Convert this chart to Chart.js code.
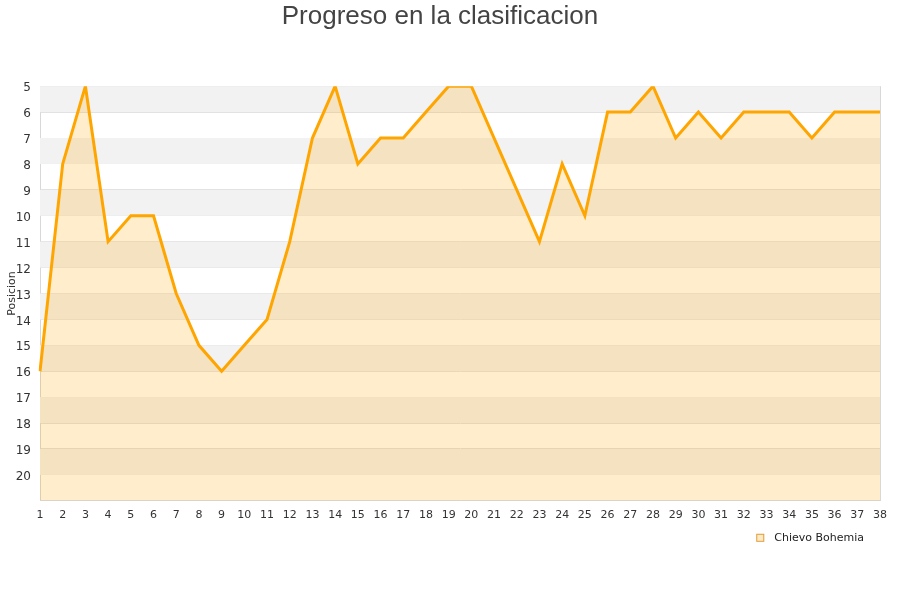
<!DOCTYPE html>
<html lang="es">
<head>
  <meta charset="UTF-8">
  <title>Progreso en la clasificacion</title>
  <script src="https://cdn.jsdelivr.net/npm/chart.js@4.4.0/dist/chart.umd.min.js"></script>
  <style>
    body { margin: 0; padding: 0; background: #fff; }
    #wrap { width: 900px; height: 600px; position: relative; }
  </style>
</head>
<body>
  <div id="wrap"><canvas id="rankChart"></canvas></div>

  <script>
    // jornadas and positions
    const jornadas = [1, 2, 3, 4, 5, 6, 7, 8, 9, 10, 11, 12, 13, 14, 15, 16, 17, 18, 19,
                      20, 21, 22, 23, 24, 25, 26, 27, 28, 29, 30, 31, 32, 33, 34, 35, 36, 37, 38];
    const posiciones = [16, 8, 5, 11, 10, 10, 13, 15, 16, 15, 14, 11, 7, 5, 8, 7, 7, 6, 5,
                        5, 7, 9, 11, 8, 10, 6, 6, 5, 7, 6, 7, 6, 6, 6, 7, 6, 6, 6];
    const teamName = 'Chievo Bohemia';
    const yMin = 5, yMax = 21;

    // alternating grey bands + right edge of the frame
    const bandsPlugin = {
      id: 'bands',
      beforeDatasetsDraw(chart) {
        const { ctx, chartArea, scales } = chart;
        const y = scales.y;
        ctx.save();
        ctx.fillStyle = '#f2f2f2';
        for (let v = yMin; v < yMax; v += 2) {
          const top = y.getPixelForValue(v);
          const bot = y.getPixelForValue(v + 1);
          ctx.fillRect(chartArea.left, top, chartArea.right - chartArea.left, bot - top);
        }
        ctx.strokeStyle = '#d8d8d8';
        ctx.lineWidth = 1;
        ctx.beginPath();
        ctx.moveTo(chartArea.right + 0.5, chartArea.top);
        ctx.lineTo(chartArea.right + 0.5, chartArea.bottom);
        ctx.stroke();
        ctx.restore();
      }
    };

    // small legend under the bottom right corner of the plot
    const legendPlugin = {
      id: 'cornerLegend',
      afterDraw(chart) {
        const { ctx, chartArea } = chart;
        const ds = chart.data.datasets[0];
        const yMid = chartArea.bottom + 37;
        ctx.save();
        ctx.font = '11px "DejaVu Sans"';
        const tw = ctx.measureText(ds.label).width;
        const textX = chartArea.right - 16 - tw;
        const boxX = textX - 18;
        ctx.fillStyle = 'rgba(255, 220, 160, 0.6)';
        ctx.fillRect(boxX, yMid - 4, 8, 8);
        ctx.strokeStyle = '#e0a040';
        ctx.lineWidth = 1;
        ctx.strokeRect(boxX + 0.5, yMid - 3.5, 7, 7);
        ctx.fillStyle = '#222';
        ctx.textBaseline = 'middle';
        ctx.fillText(ds.label, textX, yMid);
        ctx.restore();
      }
    };

    const ctx = document.getElementById('rankChart').getContext('2d');
    new Chart(ctx, {
      type: 'line',
      data: {
        labels: jornadas,
        datasets: [{
          label: teamName,
          data: posiciones,
          borderColor: '#ffa500',
          backgroundColor: 'rgba(255, 165, 0, 0.2)',
          borderWidth: 3,
          pointRadius: 0,
          tension: 0,
          fill: { value: yMax }
        }]
      },
      options: {
        responsive: true,
        maintainAspectRatio: false,
        animation: false,
        layout: { padding: { left: 0, right: 20, top: 0, bottom: 70 } },
        plugins: {
          title: {
            display: true,
            text: 'Progreso en la clasificacion',
            color: '#444',
            font: { family: 'Liberation Sans, Arial, sans-serif', size: 26, weight: 'normal' },
            padding: { top: 1, bottom: 54 }
          },
          legend: { display: false },
          tooltip: { enabled: false }
        },
        scales: {
          x: {
            offset: false,
            grid: { display: false, drawTicks: false },
            border: { color: '#d8d8d8' },
            ticks: {
              color: '#333',
              padding: 8,
              maxRotation: 0,
              autoSkip: false,
              font: { family: 'DejaVu Sans', size: 11 }
            }
          },
          y: {
            reverse: true,
            min: yMin,
            max: yMax,
            afterFit(axis) { axis.width = 40; },
            grid: { color: '#e0e0e0', drawTicks: false },
            border: { color: '#d8d8d8' },
            title: {
              display: true,
              text: 'Posicion',
              color: '#333',
              font: { family: 'DejaVu Sans', size: 11 },
              padding: { top: 6, bottom: 0 }
            },
            ticks: {
              stepSize: 1,
              color: '#333',
              padding: 9,
              labelOffset: 2,
              font: { family: 'DejaVu Sans', size: 12 },
              callback: v => (v === yMax ? '' : v)
            }
          }
        }
      },
      plugins: [bandsPlugin, legendPlugin]
    });
  </script>
</body>
</html>
